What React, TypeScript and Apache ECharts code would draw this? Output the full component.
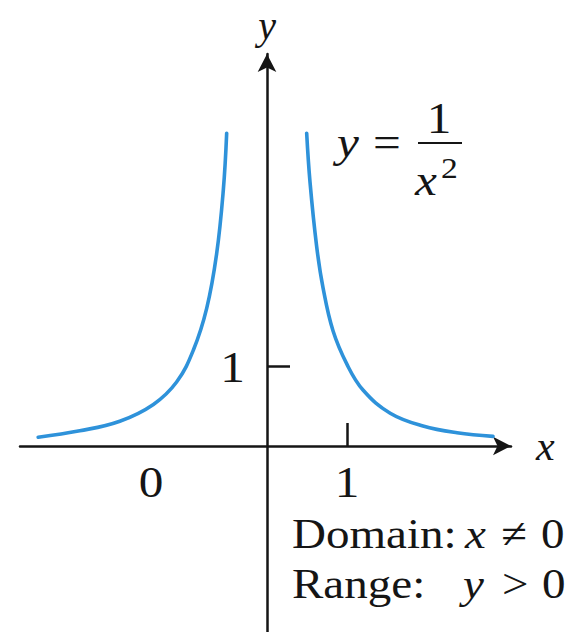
import React, { useEffect, useRef } from 'react';
import * as echarts from 'echarts';

// Curve readings (x, y)
const leftX = [-2.86, -2.34, -1.84, -1.42, -1.13, -0.92, -0.754, -0.63, -0.546, -0.504];
const leftY = [0.11, 0.19, 0.31, 0.52, 0.8, 1.2, 1.72, 2.4, 3.2, 3.91];
const rightX = [0.496, 0.5375, 0.62, 0.7, 0.825, 1.0, 1.2, 1.54, 1.95, 2.375, 2.825];
const rightY = [3.91, 3.3, 2.5, 1.98, 1.44, 1.02, 0.7, 0.41, 0.25, 0.165, 0.12];

// Axis ticks and labels
const xTickValues = [1];
const yTickValues = [1];
const xLabelValues = [-1.45, 1];
const xLabelTexts = ['0', '1'];
const yLabelValues = [1];
const yLabelTexts = ['1'];

const FONT = '"Liberation Serif", "Times New Roman", serif';
const INK = '#151515';
const CURVE = '#2e92da';

export default function App() {
  const ref = useRef<HTMLDivElement>(null);
  useEffect(() => {
    const chart = echarts.init(ref.current!, null, { renderer: 'svg' });
    const txt = (
      x: number,
      y: number,
      text: string,
      size: number,
      italic = false,
      align = 'left',
      sx = 1.12,
    ) => ({
      type: 'text',
      x,
      y,
      scaleX: sx,
      silent: true,
      style: {
        text,
        fill: INK,
        fontFamily: FONT,
        fontSize: size,
        fontStyle: italic ? 'italic' : 'normal',
        align,
        verticalAlign: 'middle',
      },
    });
    chart.setOption({
      animation: false,
      backgroundColor: '#ffffff',
      grid: { left: 20, right: 64, top: 54, bottom: 0, containLabel: false, outerBoundsMode: 'none' },
      xAxis: {
        type: 'value',
        min: -3.0875,
        max: 3.05,
        splitLine: { show: false },
        axisLine: {
          show: true,
          onZero: true,
          symbol: ['none', 'arrow'],
          symbolSize: [14, 18],
          lineStyle: { color: INK, width: 2.5 },
        },
        axisTick: {
          show: true,
          inside: true,
          length: 23,
          customValues: xTickValues,
          lineStyle: { color: INK, width: 2.5 },
        },
        axisLabel: { show: false },
        name: 'x',
        nameLocation: 'end',
        nameGap: 25,
        nameTextStyle: { fontFamily: FONT, fontSize: 42, fontStyle: 'italic', color: INK },
      },
      yAxis: {
        type: 'value',
        min: -2.325,
        max: 4.9,
        splitLine: { show: false },
        axisLine: {
          show: true,
          onZero: true,
          symbol: ['none', 'arrow'],
          symbolSize: [14, 18],
          lineStyle: { color: INK, width: 2.5 },
        },
        axisTick: {
          show: true,
          inside: true,
          length: 23,
          customValues: yTickValues,
          lineStyle: { color: INK, width: 2.5 },
        },
        axisLabel: { show: false },
        name: 'y',
        nameLocation: 'end',
        nameGap: 9,
        nameTextStyle: { fontFamily: FONT, fontSize: 40, fontStyle: 'italic', color: INK },
      },
      series: [
        {
          type: 'line',
          data: leftX.map((x, i) => [x, leftY[i]]),
          showSymbol: false,
          smooth: 0.4,
          clip: false,
          lineStyle: { color: CURVE, width: 3.6, cap: 'round' },
        },
        {
          type: 'line',
          data: rightX.map((x, i) => [x, rightY[i]]),
          showSymbol: false,
          smooth: 0.4,
          clip: false,
          lineStyle: { color: CURVE, width: 3.6, cap: 'round' },
        },
      ],
    });

    // Tick labels placed through the chart's own scales
    const tickLabels: any[] = [];
    xLabelValues.forEach((v, i) => {
      const p = chart.convertToPixel({ gridIndex: 0 }, [v, 0]) as number[];
      tickLabels.push(txt(p[0], p[1] + 36, xLabelTexts[i], 44, false, 'center'));
    });
    yLabelValues.forEach((v, i) => {
      const p = chart.convertToPixel({ gridIndex: 0 }, [0, v]) as number[];
      tickLabels.push(txt(p[0] - 22, p[1] + 1, yLabelTexts[i], 44, false, 'right'));
    });

    chart.setOption({
      graphic: [
        ...tickLabels,
        txt(337, 142, 'y', 44, true),
        txt(373, 142, '=', 44),
        txt(439, 118, '1', 44, false, 'center'),
        {
          type: 'line',
          silent: true,
          shape: { x1: 418, y1: 143, x2: 462, y2: 143 },
          style: { stroke: INK, lineWidth: 2.2 },
        },
        txt(415, 180, 'x', 44, true),
        txt(441, 168, '2', 30),
        txt(292, 534, 'Domain:', 42),
        txt(465, 534, 'x', 42, true),
        txt(501, 534, '≠', 42),
        txt(541, 534, '0', 42),
        txt(292, 584, 'Range:', 42),
        txt(463, 584, 'y', 42, true),
        txt(502, 584, '>', 42),
        txt(542, 584, '0', 42),
      ],
    });
    return () => chart.dispose();
  }, []);
  return (
    <div
      ref={ref}
      style={{ position: 'fixed', left: 0, top: 0, width: 575, height: 632, background: '#fff' }}
    />
  );
}
